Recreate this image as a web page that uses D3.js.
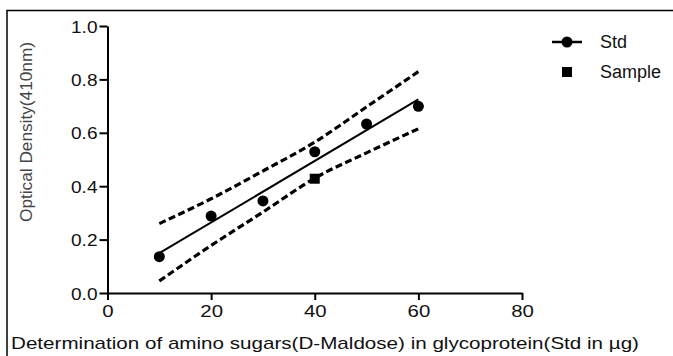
<!DOCTYPE html>
<html>
<head>
<meta charset="utf-8">
<script src="https://cdn.jsdelivr.net/npm/d3@7"></script>
<style>
  body { margin: 0; background: #fff; }
  svg { display: block; font-family: "Liberation Sans", Arial, sans-serif; }
</style>
</head>
<body>
<div id="chart"></div>
<script>
// Data
const stdX = [10, 20, 30, 40, 50, 60];
const stdY = [0.136, 0.288, 0.345, 0.529, 0.633, 0.699];
const sampleX = [40];
const sampleY = [0.428];
const fitX = [10, 60];
const fitY = [0.149, 0.725];
const bandX = [10, 20, 30, 40, 50, 60];
const bandUpper = [0.260, 0.353, 0.457, 0.565, 0.697, 0.829];
const bandLower = [0.045, 0.178, 0.303, 0.430, 0.525, 0.615];
const xTicks = [0, 20, 40, 60, 80];
const yTicks = [0.0, 0.2, 0.4, 0.6, 0.8, 1.0];
const legendLabels = ["Std", "Sample"];

const W = 673, H = 356;

// the reference text is a bit wider than the font, stretch it horizontally
function stretch(sel, factor) {
    sel.each(function() {
        const len = this.getComputedTextLength();
        d3.select(this)
            .attr("textLength", len * factor)
            .attr("lengthAdjust", "spacingAndGlyphs");
    });
}

function draw() {
    const svg = d3.select("#chart").append("svg")
        .attr("width", W)
        .attr("height", H);

    svg.append("rect").attr("width", W).attr("height", H).attr("fill", "#fff");

    // partial frame (top + left)
    svg.append("path")
        .attr("d", `M7,${H} V10.5 H${W}`)
        .attr("fill", "none")
        .attr("stroke", "#000")
        .attr("stroke-width", 1.5);

    const x = d3.scaleLinear().domain([0, 80]).range([107.5, 522]);
    const y = d3.scaleLinear().domain([0, 1]).range([293, 26]);

    // axes
    const xAxis = svg.append("g")
        .attr("transform", `translate(0,${y(0)})`)
        .call(d3.axisBottom(x).tickValues(xTicks).tickSize(7).tickPadding(5).tickSizeOuter(0));
    const yAxis = svg.append("g")
        .attr("transform", `translate(${x(0)},0)`)
        .call(d3.axisLeft(y).tickValues(yTicks).tickFormat(d3.format(".1f")).tickSize(8).tickPadding(2).tickSizeOuter(0));

    [xAxis, yAxis].forEach(g => {
        g.select(".domain").attr("stroke", "#000").attr("stroke-width", 2);
        g.selectAll(".tick line").attr("stroke", "#000").attr("stroke-width", 2);
        g.selectAll(".tick text")
            .attr("fill", "#111")
            .style("font-size", "17px")
            .style("font-family", "'Liberation Sans', Arial, sans-serif");
    });
    yAxis.selectAll(".tick text").attr("dy", "0.36em");
    stretch(xAxis.selectAll(".tick text"), 1.2);
    stretch(yAxis.selectAll(".tick text"), 1.12);

    // axis titles
    svg.append("text")
        .attr("x", 11)
        .attr("y", 349)
        .attr("fill", "#111")
        .style("font-size", "17px")
        .attr("textLength", 628)
        .attr("lengthAdjust", "spacingAndGlyphs")
        .text("Determination of amino sugars(D-Maldose) in glycoprotein(Std in µg)");

    svg.append("text")
        .attr("transform", `translate(32,132) rotate(-90)`)
        .attr("text-anchor", "middle")
        .attr("fill", "#444")
        .style("font-size", "17px")
        .attr("textLength", 180)
        .attr("lengthAdjust", "spacingAndGlyphs")
        .text("Optical Density(410nm)");

    // confidence bands
    const bandLine = d3.line()
        .x(d => x(d[0]))
        .y(d => y(d[1]))
        .curve(d3.curveMonotoneX);

    [bandUpper, bandLower].forEach(vals => {
        svg.append("path")
            .datum(bandX.map((v, i) => [v, vals[i]]))
            .attr("fill", "none")
            .attr("stroke", "#000")
            .attr("stroke-width", 3.2)
            .attr("stroke-dasharray", "7,3.5")
            .attr("d", bandLine);
    });

    // fitted line
    svg.append("path")
        .datum(fitX.map((v, i) => [v, fitY[i]]))
        .attr("fill", "none")
        .attr("stroke", "#000")
        .attr("stroke-width", 2)
        .attr("d", d3.line().x(d => x(d[0])).y(d => y(d[1])));

    // std points
    svg.selectAll(".std")
        .data(stdX.map((v, i) => [v, stdY[i]]))
        .enter()
        .append("circle")
        .attr("class", "std")
        .attr("cx", d => x(d[0]))
        .attr("cy", d => y(d[1]))
        .attr("r", 5.5)
        .attr("fill", "#000");

    // sample points
    const sq = 10;
    svg.selectAll(".sample")
        .data(sampleX.map((v, i) => [v, sampleY[i]]))
        .enter()
        .append("rect")
        .attr("class", "sample")
        .attr("x", d => x(d[0]) - sq / 2)
        .attr("y", d => y(d[1]) - sq / 2)
        .attr("width", sq)
        .attr("height", sq)
        .attr("fill", "#000");

    // legend
    const legend = svg.append("g").attr("transform", "translate(567,42)");
    const rowGap = 30;
    legend.append("line")
        .attr("x1", -15).attr("x2", 15)
        .attr("y1", 0).attr("y2", 0)
        .attr("stroke", "#000").attr("stroke-width", 2.5);
    legend.append("circle").attr("r", 5.5).attr("fill", "#000");
    legend.append("rect")
        .attr("x", -5).attr("y", rowGap - 5)
        .attr("width", 10).attr("height", 10)
        .attr("fill", "#000");
    legend.selectAll(".leg-label")
        .data(legendLabels)
        .enter()
        .append("text")
        .attr("class", "leg-label")
        .attr("x", 33)
        .attr("y", (d, i) => i * rowGap)
        .attr("dy", "0.36em")
        .attr("fill", "#111")
        .style("font-size", "18px")
        .text(d => d);
}

document.addEventListener("DOMContentLoaded", draw);
</script>
</body>
</html>
